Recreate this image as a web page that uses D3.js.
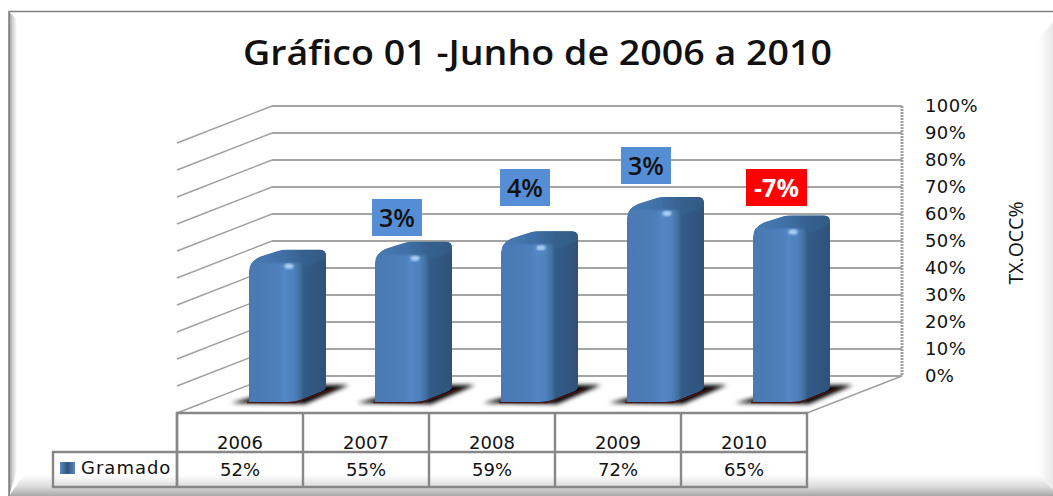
<!DOCTYPE html>
<html>
<head>
<meta charset="utf-8">
<style>
  html, body { margin: 0; padding: 0; background: #fff; }
  svg { display: block; }
  svg text { font-family: "DejaVu Sans", sans-serif; fill: #111; }
  svg .bold text, svg text.bold { font-family: "Open Sans", "DejaVu Sans", sans-serif; font-weight: 600; }
  .grid { stroke: #a4a4a4; stroke-width: 2px; fill: none; }
  .side { stroke: #a0a0a0; stroke-width: 1.4px; fill: none; }
  .table line, .table path { stroke: #878787; stroke-width: 2.4px; fill: none; }
</style>
</head>
<body>
<div id="chart"></div>
<script src="https://d3js.org/d3.v7.min.js"></script>
<script>
  var title = "Gráfico 01 -Junho de 2006 a 2010";
  var years = ["2006", "2007", "2008", "2009", "2010"];
  var occupancy = [52, 55, 59, 72, 65];
  var changes = ["", "3%", "4%", "3%", "-7%"];
  var yTicks = [0, 10, 20, 30, 40, 50, 60, 70, 80, 90, 100];
  var seriesName = "Gramado";
  var axisName = "TX.OCC%";

  var width = 1053, height = 496;

  var svg = d3.select("#chart").append("svg")
      .attr("width", width)
      .attr("height", height);

  var defs = svg.append("defs");

  function gradient(id, x2, y2, stops) {
    var g = defs.append("linearGradient").attr("id", id)
      .attr("x1", 0).attr("y1", 0).attr("x2", x2).attr("y2", y2);
    stops.forEach(function (s) {
      g.append("stop").attr("offset", s[0]).attr("stop-color", s[1]);
    });
  }
  gradient("barBody", 1, 0, [[0, "#4a79b3"], [0.38, "#4d7fbb"], [0.46, "#5387c5"], [0.58, "#4e82be"], [0.66, "#41719f"], [0.71, "#335b87"], [1, "#2f5279"]]);
  gradient("barTop", 1, 0, [[0, "#4a7cb6"], [0.45, "#3f6fa5"], [0.7, "#36608d"], [1, "#325a84"]]);
  gradient("bevelLeft", 1, 0, [[0, "#8f8f8f"], [0.35, "#c8c8c8"], [1, "#ffffff"]]);
  gradient("bevelBottom", 0, 1, [[0, "#ffffff"], [0.55, "#dcdcdc"], [1, "#a8a8a8"]]);
  gradient("bevelRight", 1, 0, [[0, "#ffffff"], [1, "#e8e8e8"]]);
  gradient("legendKey", 1, 0, [[0, "#5b8ac4"], [0.5, "#2f5279"], [1, "#5b8ac4"]]);

  var blur = defs.append("filter").attr("id", "soft")
    .attr("x", "-20%").attr("y", "-100%").attr("width", "140%").attr("height", "300%");
  blur.append("feGaussianBlur").attr("stdDeviation", 1.9);
  var blurSmall = defs.append("filter").attr("id", "softer");
  blurSmall.append("feGaussianBlur").attr("stdDeviation", 0.8);

  // frame with bevelled edges, runs off the right and bottom of the picture
  var line = d3.line();
  var frame = { left: 9, top: 11.5 };
  svg.append("path")
      .attr("d", line([[1053, 22], [1038, 40], [1038, 476], [1053, 490]]))
      .attr("fill", "url(#bevelRight)");
  svg.append("path")
      .attr("d", line([[frame.left, 496], [24, 475], [1038, 475], [1053, 490], [1053, 496]]))
      .attr("fill", "url(#bevelBottom)");
  svg.append("path")
      .attr("d", line([[frame.left, frame.top], [17, 20], [17, 470], [frame.left, 496]]))
      .attr("fill", "url(#bevelLeft)");
  svg.append("path")
      .attr("d", line([[frame.left, 496], [frame.left, frame.top], [1053, frame.top]]))
      .attr("fill", "none").attr("stroke", "#808080").attr("stroke-width", 1.6);

  svg.append("text")
      .attr("class", "bold")
      .attr("x", 243).attr("y", 65)
      .attr("textLength", 589).attr("lengthAdjust", "spacingAndGlyphs")
      .style("font-size", "35px")
      .text(title);

  // scales: the wall is the back plane, bars stand on a nearer plane
  var depth = { x: 95, y: 37 };
  var floorLeft = 177, floorRight = 807;
  var x = d3.scaleBand().domain(years).range([floorLeft, floorRight]);
  var yWall = d3.scaleLinear().domain([0, 100]).range([376, 106]);
  var yBar = d3.scaleLinear().domain([0, 100]).range([402, 138]);

  // side wall and back wall gridlines
  svg.append("g").selectAll("path")
    .data(yTicks)
    .join("path")
      .attr("class", "side")
      .attr("d", function (d) {
        var y0 = yWall(d);
        return line([[floorLeft, y0 + depth.y], [floorLeft + depth.x, y0]]);
      });
  svg.append("g").selectAll("line")
    .data(yTicks)
    .join("line")
      .attr("class", "grid")
      .attr("x1", floorLeft + depth.x).attr("x2", floorRight + depth.x)
      .attr("y1", function (d) { return yWall(d); })
      .attr("y2", function (d) { return yWall(d); });
  svg.append("line")
      .attr("x1", floorRight + depth.x).attr("x2", floorRight + depth.x)
      .attr("y1", yWall(100)).attr("y2", yWall(0))
      .attr("stroke", "#a0a0a0").attr("stroke-width", 3)
      .attr("stroke-dasharray", "2 1");
  svg.append("line")
      .attr("class", "side")
      .attr("x1", floorRight).attr("x2", floorRight + depth.x)
      .attr("y1", yWall(0) + depth.y).attr("y2", yWall(0));

  // y axis labels
  svg.append("g").selectAll("text")
    .data(yTicks)
    .join("text")
      .attr("x", 925)
      .attr("y", function (d) { return yWall(d); })
      .attr("dy", "0.36em")
      .style("font-size", "18px")
      .style("letter-spacing", "0.4px")
      .text(function (d) { return d + "%"; });

  svg.append("text")
      .attr("class", "bold")
      .attr("transform", "translate(1023,243) rotate(-90)")
      .attr("text-anchor", "middle")
      .style("font-size", "19.5px")
      .style("font-weight", 400)
      .text(axisName);

  // bars
  var barOffset = 72;
  var y0 = yBar(0);

  function barOutline(t) {
    return "M0," + y0 + " V" + (t + 6)
      + " Q0," + (t - 3) + " 11," + (t - 8)
      + " L30," + (t - 14) + " Q33," + (t - 15) + " 38," + (t - 15)
      + " H71 Q77," + (t - 15) + " 77," + (t - 9)
      + " V" + (y0 - 15) + " Q77," + (y0 - 12) + " 72," + (y0 - 10)
      + " L54," + (y0 - 3) + " Q48," + y0 + " 38," + y0 + " Z";
  }

  var bars = svg.append("g").selectAll("g")
    .data(years.map(function (yr, i) { return { year: yr, value: occupancy[i], change: changes[i], i: i }; }))
    .join("g")
      .attr("transform", function (d) { return "translate(" + (x(d.year) + barOffset) + ",0)"; });

  bars.append("path")  // floor shadow
      .attr("d", line([[-18, y0 + 1], [56, y0 + 2], [100, y0 - 17], [50, y0 - 17]]))
      .attr("fill", "#000")
      .attr("filter", "url(#soft)");
  bars.append("path")  // reddish contact line
      .attr("d", line([[-2, y0 + 0.5], [46, y0 + 0.5], [84, y0 - 13]]))
      .attr("fill", "none").attr("stroke", "#4a1512").attr("stroke-width", 1.6);

  bars.each(function (d) {
    defs.append("clipPath").attr("id", "bar-clip-" + d.i)
      .append("path").attr("d", barOutline(yBar(d.value)));
  });
  var inner = bars.append("g")
      .attr("clip-path", function (d) { return "url(#bar-clip-" + d.i + ")"; });
  inner.append("path")
      .attr("d", function (d) { return barOutline(yBar(d.value)); })
      .attr("fill", "url(#barBody)");
  inner.append("path")  // darker top face, blurred into the body
      .attr("d", function (d) {
        var t = yBar(d.value);
        return "M-3," + (t + 4) + " Q3," + (t - 2) + " 12," + (t - 2)
          + " H52 L56," + (t + 3) + " L80," + (t - 7) + " V" + (t - 20) + " H-3 Z";
      })
      .attr("fill", "url(#barTop)")
      .attr("filter", "url(#softer)");
  inner.append("ellipse")  // highlight on the edge
      .attr("cx", 40)
      .attr("cy", function (d) { return yBar(d.value) + 1.5; })
      .attr("rx", 4.5).attr("ry", 2.6)
      .attr("fill", "#a9d0f5")
      .attr("filter", "url(#softer)");

  // change labels, placed by hand over the bars as in the sheet
  var labelLeft = [0, 372, 500, 621, 746];
  var labelTop = [0, 199, 169, 147, 169];
  var labelH = 37;
  function isDrop(d) { return d.change.charAt(0) === "-"; }
  function labelW(d) { return isDrop(d) ? 61 : 50; }

  var labels = svg.append("g").attr("class", "bold").selectAll("g")
    .data(bars.data().filter(function (d) { return d.change !== ""; }))
    .join("g")
      .attr("transform", function (d) { return "translate(" + labelLeft[d.i] + "," + labelTop[d.i] + ")"; });
  labels.append("rect")
      .attr("width", labelW)
      .attr("height", labelH)
      .attr("fill", function (d) { return isDrop(d) ? "#ff0000" : "#558ed5"; });
  labels.append("text")
      .attr("x", function (d) { return labelW(d) / 2; })
      .attr("y", labelH / 2)
      .attr("dy", "0.36em")
      .attr("text-anchor", "middle")
      .style("font-size", "25px")
      .style("font-weight", function (d) { return isDrop(d) ? 700 : 600; })
      .style("fill", function (d) { return isDrop(d) ? "#fff" : "#111"; })
      .text(function (d) { return d.change; });

  // data table
  var rowTop = 413, rowMid = 452, rowBottom = 487, legendLeft = 53;
  var table = svg.append("g").attr("class", "table");
  table.selectAll("text.year")
    .data(years)
    .join("text")
      .attr("class", "year")
      .attr("x", function (d) { return x(d) + x.bandwidth() / 2; })
      .attr("y", 449)
      .attr("text-anchor", "middle")
      .style("font-size", "18px")
      .text(function (d) { return d; });
  table.append("path")
      .attr("d", line([[floorLeft, rowBottom], [floorLeft, rowTop], [floorRight, rowTop], [floorRight, rowBottom], [legendLeft, rowBottom], [legendLeft, rowMid], [floorRight, rowMid]]));
  table.selectAll("line")
    .data(years)
    .join("line")
      .attr("x1", function (d) { return x(d); })
      .attr("x2", function (d) { return x(d); })
      .attr("y1", rowTop).attr("y2", rowBottom);
  table.selectAll("text.value")
    .data(occupancy)
    .join("text")
      .attr("class", "value")
      .attr("x", function (d, i) { return x(years[i]) + x.bandwidth() / 2; })
      .attr("y", 476)
      .attr("text-anchor", "middle")
      .style("font-size", "18px")
      .text(function (d) { return d + "%"; });
  table.append("rect")
      .attr("x", 60).attr("y", 462).attr("width", 15).attr("height", 12)
      .attr("fill", "url(#legendKey)");
  table.append("text")
      .attr("x", 81).attr("y", 474)
      .style("font-size", "18px")
      .style("letter-spacing", "1px")
      .text(seriesName);
</script>
</body>
</html>
